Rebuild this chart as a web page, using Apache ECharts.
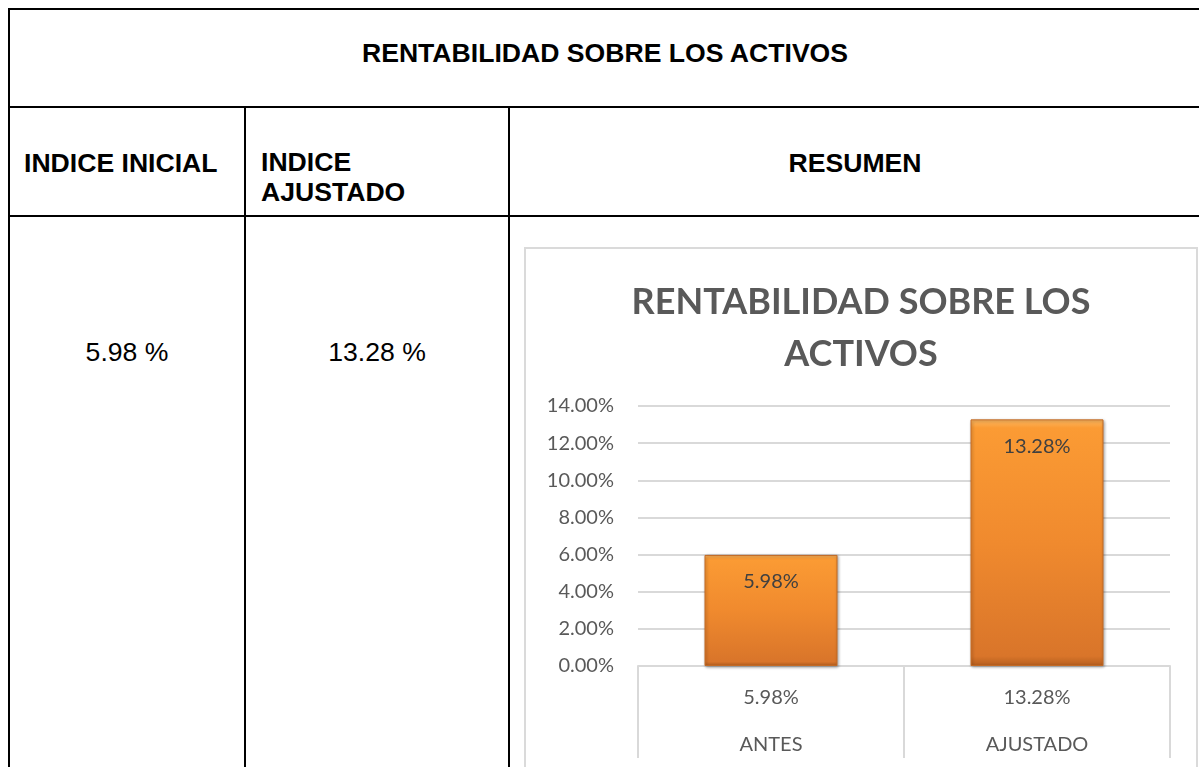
<!DOCTYPE html>
<html>
<head>
<meta charset="utf-8">
<script src="https://cdn.jsdelivr.net/npm/echarts@6/dist/echarts.min.js"></script>
<style>
html, body { margin: 0; padding: 0; width: 1199px; height: 767px; overflow: hidden; background: #fff; }
.ln { position: absolute; background: #000; }
.txt { position: absolute; font-family: "Liberation Sans", Arial, sans-serif; font-size: 26.6px; line-height: 30px; color: #000; white-space: nowrap; }
.b { font-weight: bold; }
.frame { position: absolute; left: 524px; top: 247px; width: 674px; height: 540px; border: 2px solid #dadada; box-sizing: border-box; }
#chart { width: 670px; height: 536px; }
</style>
</head>
<body>
<!-- table lines -->
<div class="ln" style="left:8px;top:8px;width:1200px;height:2px"></div>
<div class="ln" style="left:8px;top:106px;width:1200px;height:2px"></div>
<div class="ln" style="left:8px;top:215px;width:1200px;height:2px"></div>
<div class="ln" style="left:8px;top:8px;width:2px;height:780px"></div>
<div class="ln" style="left:244px;top:106px;width:2px;height:680px"></div>
<div class="ln" style="left:508px;top:106px;width:2px;height:680px"></div>

<div class="txt b" id="hdr" style="left:10px;width:1190px;top:38px;text-align:center"></div>
<div class="txt b" style="left:24px;top:148px">INDICE INICIAL</div>
<div class="txt b" style="left:261px;top:147px">INDICE<br>AJUSTADO</div>
<div class="txt b" style="left:510px;width:690px;top:148px;text-align:center">RESUMEN</div>
<div class="txt" id="v1" style="left:10px;width:234px;top:337px;text-align:center"></div>
<div class="txt" id="v2" style="left:246px;width:262px;top:337px;text-align:center"></div>

<div class="frame"><div id="chart"></div></div>

<script>
const chartTitle = "RENTABILIDAD SOBRE LOS ACTIVOS";
const categories = ["ANTES", "AJUSTADO"];
const values = [5.98, 13.28];
const yMin = 0;
const yMax = 14;
const yStep = 2;

document.getElementById("hdr").textContent = chartTitle;
document.getElementById("v1").textContent = values[0].toFixed(2) + " %";
document.getElementById("v2").textContent = values[1].toFixed(2) + " %";

const pct = (v) => Number(v).toFixed(2) + "%";
const chart = echarts.init(document.getElementById("chart"));
chart.setOption({
  animation: false,
  title: {
    text: "RENTABILIDAD SOBRE LOS\nACTIVOS",
    left: "center",
    top: 22,
    textStyle: {
      fontFamily: "Lato",
      fontWeight: "bold",
      fontSize: 36,
      lineHeight: 52,
      color: "#595959",
    },
  },
  grid: {
    left: 112,
    top: 157,
    width: 532,
    height: 260,
    outerBoundsMode: "none",
  },
  xAxis: {
    type: "category",
    data: categories,
    axisLine: { lineStyle: { color: "#d9d9d9", width: 2 } },
    axisTick: {
      show: true,
      interval: 0,
      length: 92,
      lineStyle: { color: "#d9d9d9", width: 2 },
    },
    axisLabel: {
      interval: 0,
      margin: 8,
      formatter: (name, idx) => "{v|" + pct(values[idx]) + "}\n{c|" + name + "}",
      rich: {
        v: { fontFamily: "Lato", fontSize: 20, lineHeight: 47, color: "#595959" },
        c: { fontFamily: "Lato", fontSize: 20, lineHeight: 47, color: "#595959" },
      },
    },
  },
  yAxis: {
    type: "value",
    min: yMin,
    max: yMax,
    interval: yStep,
    axisLine: { show: false },
    axisTick: { show: false },
    splitLine: { lineStyle: { color: "#d9d9d9", width: 2 } },
    axisLabel: {
      margin: 24,
      fontFamily: "Lato",
      fontSize: 20,
      color: "#595959",
      formatter: pct,
    },
  },
  series: [
    {
      type: "bar",
      data: values,
      barWidth: "50%",
      itemStyle: {
        color: {
          type: "linear",
          x: 0, y: 0, x2: 0, y2: 1,
          colorStops: [
            { offset: 0, color: "#fcb862" },
            { offset: 0.035, color: "#fb9b34" },
            { offset: 0.5, color: "#f08a2e" },
            { offset: 0.96, color: "#d9752a" },
            { offset: 1, color: "#b55e1e" },
          ],
        },
        borderColor: "#c36a24",
        borderWidth: 1,
        shadowColor: "rgba(0,0,0,0.35)",
        shadowBlur: 3,
        shadowOffsetX: 1,
        shadowOffsetY: 1,
      },
      label: {
        show: true,
        position: "insideTop",
        distance: 17,
        fontFamily: "Lato",
        fontSize: 20,
        color: "#404040",
        formatter: (p) => pct(p.value),
      },
    },
  ],
});
</script>
</body>
</html>
